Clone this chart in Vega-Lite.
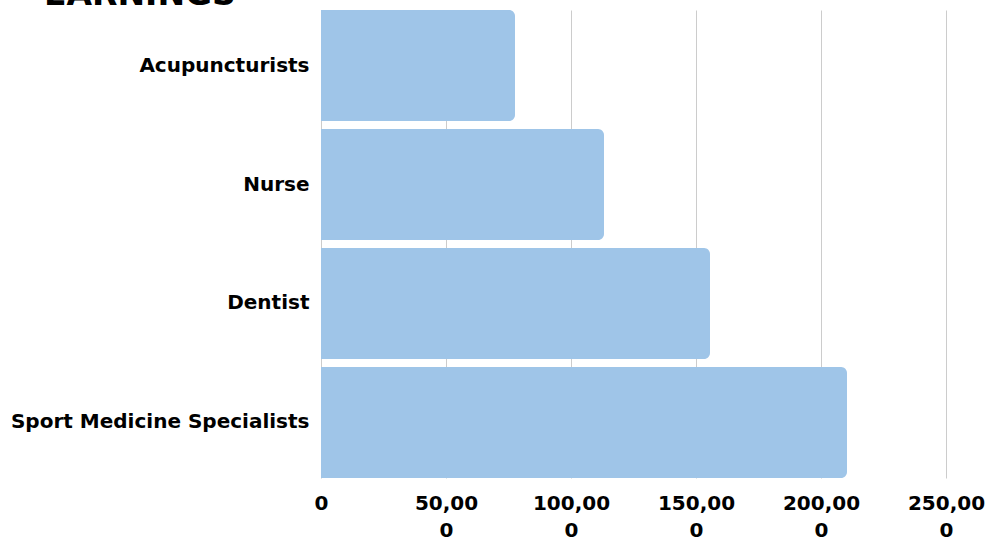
{
  "$schema": "https://vega.github.io/schema/vega-lite/v6.json",
  "autosize": {"type": "none"},
  "width": 625,
  "height": 468,
  "padding": {"left": 321, "top": 10, "right": 52, "bottom": 63},
  "background": "#ffffff",
  "title": {
    "text": "EARNINGS",
    "anchor": "start",
    "frame": "group",
    "dx": -277,
    "offset": -2,
    "fontSize": 33,
    "font": "DejaVu Sans",
    "fontWeight": "bold",
    "color": "#000000"
  },
  "data": {
    "values": [
      {"job": "Acupuncturists", "earnings": 77600},
      {"job": "Nurse", "earnings": 113200},
      {"job": "Dentist", "earnings": 155600},
      {"job": "Sport Medicine Specialists", "earnings": 210400}
    ]
  },
  "mark": {"type": "bar", "color": "#9fc5e8", "cornerRadiusEnd": 6},
  "encoding": {
    "y": {
      "field": "job",
      "type": "nominal",
      "sort": null,
      "scale": {"paddingInner": 0.0672, "paddingOuter": 0},
      "axis": {
        "title": null,
        "ticks": false,
        "domain": false,
        "labelPadding": 12,
        "labelFont": "DejaVu Sans",
        "labelFontWeight": "bold",
        "labelFontSize": 20,
        "labelColor": "#000000",
        "labelLimit": 400
      }
    },
    "x": {
      "field": "earnings",
      "type": "quantitative",
      "scale": {"domain": [0, 250000], "nice": false},
      "axis": {
        "title": null,
        "values": [0, 50000, 100000, 150000, 200000, 250000],
        "format": ",d",
        "labelExpr": "datum.value == 0 ? '0' : [slice(datum.label, 0, -1), slice(datum.label, -1)]",
        "ticks": false,
        "domain": false,
        "grid": true,
        "gridColor": "#cccccc",
        "gridWidth": 1,
        "labelPadding": 15,
        "labelFont": "DejaVu Sans",
        "labelFontWeight": "bold",
        "labelFontSize": 20,
        "labelLineHeight": 27,
        "labelColor": "#000000",
        "labelBaseline": "top",
        "labelFlush": false,
        "labelOverlap": false
      }
    }
  },
  "config": {"view": {"stroke": null}}
}
